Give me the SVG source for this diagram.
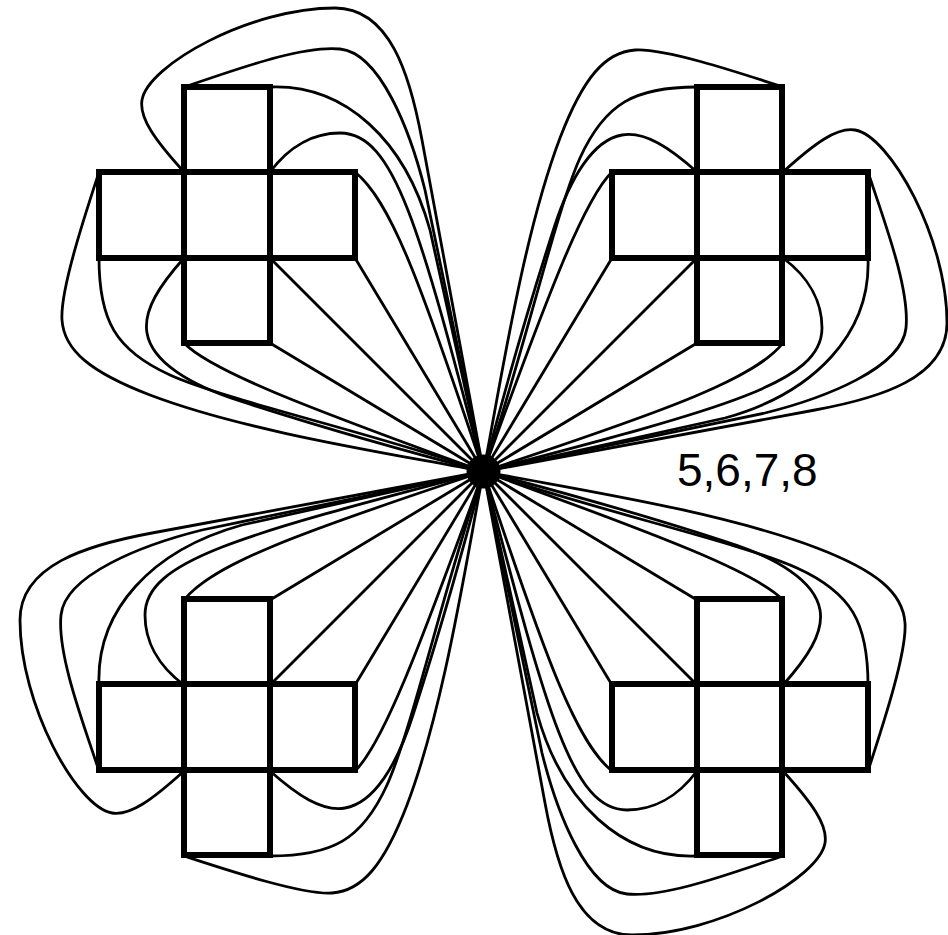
<svg xmlns="http://www.w3.org/2000/svg" xmlns:xlink="http://www.w3.org/1999/xlink" width="948" height="935" viewBox="0 0 948 935">
<style>
.sq{fill:none;stroke:#000;stroke-width:6}
.e{fill:none;stroke:#000;stroke-width:2.8}
.lbl{font-family:"Liberation Sans",Arial,sans-serif;font-size:46px;fill:#000}
</style>
<defs>
<g id="fan">
<path d="M270,343 L483.5,471.5"/>
<path d="M270,258 L483.5,471.5"/>
<path d="M355,258 L483.5,471.5"/>
<path d="M184,172 C155,140 139,118 142,100 C148,65 250,8 335,8 C390,8 410,75 422,140 L483.5,471.5"/>
<path d="M184,87 C230,72 300,45 340,49 C380,53 410,130 425,190 L483.5,471.5"/>
<path d="M270,87 C345,84 405,140 430,230 L483.5,471.5"/>
<path d="M270,172 C290,145 315,133 340,133 C395,133 420,230 483.5,471.5"/>
<path d="M355,172 C390,200 420,280 483.5,471.5"/>
<path d="M99,172 C85,215 60,290 62,320 C64,350 90,372 150,395 C250,433 400,455 483.5,471.5"/>
<path d="M99,258 C99,320 115,350 170,375 C225,400 380,435 483.5,471.5"/>
<path d="M184,258 C160,285 143,310 147,333 C152,362 190,385 240,401 C320,427 420,455 483.5,471.5"/>
<path d="M184,343 C210,370 300,405 483.5,471.5"/>
</g>
</defs>
<g id="connectors" class="e">
<use xlink:href="#fan"/>
<use xlink:href="#fan" transform="rotate(90 483.5 471.5)"/>
<use xlink:href="#fan" transform="rotate(180 483.5 471.5)"/>
<use xlink:href="#fan" transform="rotate(270 483.5 471.5)"/>
</g>
<g id="cross-top-left" class="sq">
<rect x="184" y="87" width="86" height="85"/>
<rect x="99" y="172" width="85" height="86"/>
<rect x="184" y="172" width="86" height="86"/>
<rect x="270" y="172" width="85" height="86"/>
<rect x="184" y="258" width="86" height="85"/>
</g>
<g id="cross-top-right" class="sq">
<rect x="697" y="87" width="85" height="85"/>
<rect x="612" y="172" width="85" height="86"/>
<rect x="697" y="172" width="85" height="86"/>
<rect x="782" y="172" width="86" height="86"/>
<rect x="697" y="258" width="85" height="85"/>
</g>
<g id="cross-bottom-left" class="sq">
<rect x="184" y="599" width="86" height="85"/>
<rect x="99" y="684" width="85" height="86"/>
<rect x="184" y="684" width="86" height="86"/>
<rect x="270" y="684" width="85" height="86"/>
<rect x="184" y="770" width="86" height="85"/>
</g>
<g id="cross-bottom-right" class="sq">
<rect x="697" y="599" width="85" height="85"/>
<rect x="612" y="684" width="85" height="86"/>
<rect x="697" y="684" width="85" height="86"/>
<rect x="782" y="684" width="86" height="86"/>
<rect x="697" y="770" width="85" height="85"/>
</g>
<g id="hub">
<circle cx="483.5" cy="471.5" r="17" fill="#000"/>
<text class="lbl" x="677" y="486">5,6,7,8</text>
</g>
</svg>
